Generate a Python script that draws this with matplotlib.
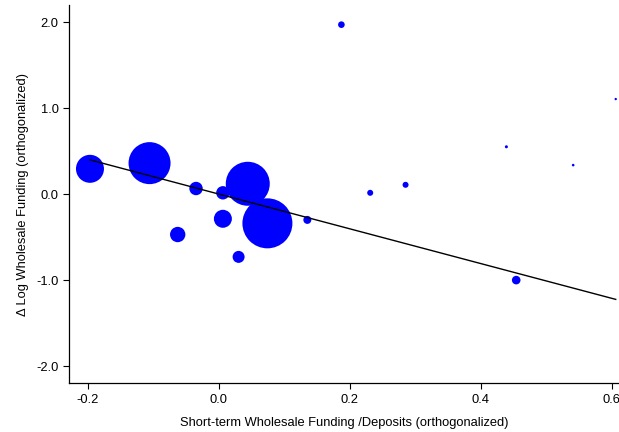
import numpy as np
import matplotlib.pyplot as plt

plt.rcParams['font.family'] = ['Liberation Sans', 'DejaVu Sans']

# Bank-level observations (orthogonalized) and their regression weights
stwf_dep = [-0.197, -0.106, -0.035, 0.006, 0.044, 0.074, 0.135, -0.063, 0.006,
            0.030, 0.187, 0.231, 0.285, 0.439, 0.541, 0.606, 0.454]
dlog_wf = [0.294, 0.360, 0.065, 0.015, 0.120, -0.340, -0.300, -0.470, -0.287,
           -0.730, 1.970, 0.015, 0.108, 0.550, 0.337, 1.105, -1.000]
weights = [196, 441, 45, 45, 484, 625, 16, 59, 81,
           36, 11, 9, 9, 2.3, 1.7, 1.4, 18.5]

# Weighted linear fit
fit_slope = -2.02
fit_intercept = 0.0

x_ticks = [-0.2, 0.0, 0.2, 0.4, 0.6]
y_ticks = [-2.0, -1.0, 0.0, 1.0, 2.0]


def main():
    fig = plt.figure(figsize=(6.19, 4.32), dpi=100)
    ax = fig.add_axes([0.1115, 0.1127, 0.8885, 0.876])

    w = np.asarray(weights)
    # marker area proportional to weight (points^2)
    sizes = w * 4 * 0.72**2
    ax.scatter(stwf_dep, dlog_wf, s=sizes, color='#0000ff', edgecolors='none',
               zorder=2)

    xs = np.array([min(stwf_dep), max(stwf_dep)])
    ax.plot(xs, fit_intercept + fit_slope * xs, color='black', lw=1.0, zorder=3)

    ax.set_xlim(-0.229, 0.611)
    ax.set_ylim(-2.2, 2.2)
    ax.set_xticks(x_ticks)
    ax.set_xticklabels([f"{t:.1f}" for t in x_ticks])
    ax.set_yticks(y_ticks)
    ax.set_yticklabels([f"{t:.1f}" for t in y_ticks])

    for side in ['top', 'right']:
        ax.spines[side].set_visible(False)
    for side in ['left', 'bottom']:
        ax.spines[side].set_linewidth(0.9)
    ax.tick_params(direction='out', length=4.5, width=0.8, labelsize=9.3,
                   colors='black', pad=3)

    ax.set_xlabel("Short-term Wholesale Funding /Deposits (orthogonalized)",
                  fontsize=9.3, labelpad=8)
    ax.set_ylabel("\u0394 Log Wholesale Funding (orthogonalized)",
                  fontsize=9.3, labelpad=5)

    fig.savefig("out.png", dpi=100)


if __name__ == "__main__":
    main()
